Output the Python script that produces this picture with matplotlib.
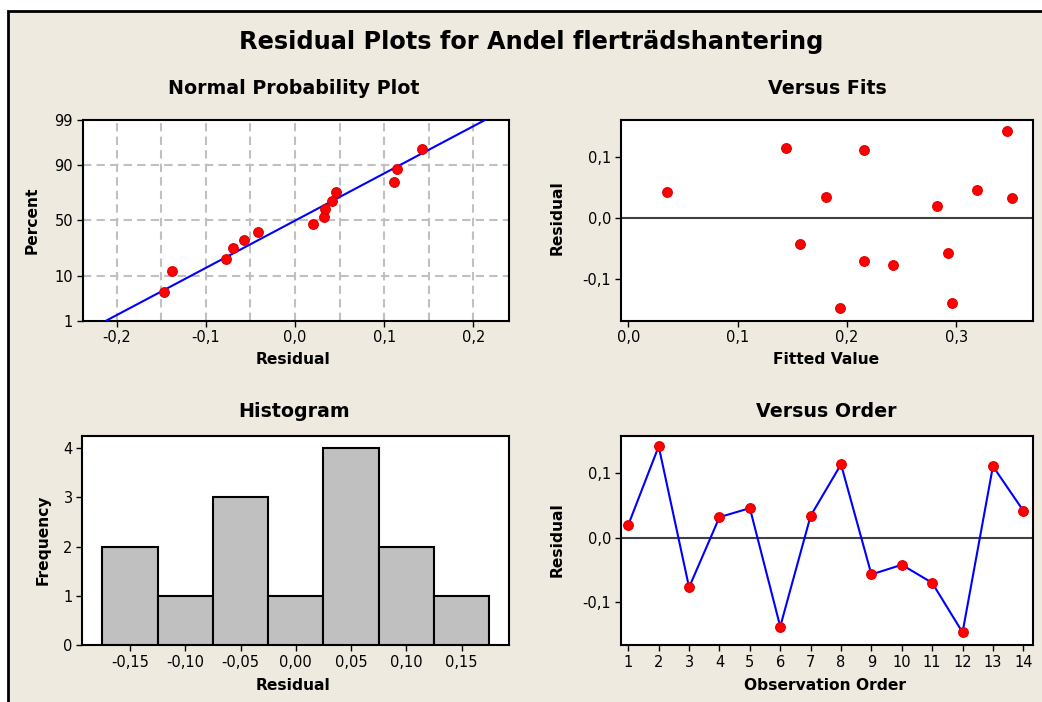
import numpy as np
import matplotlib.pyplot as plt
from matplotlib.patches import Rectangle
from statistics import NormalDist

order = np.arange(1, 15)
residuals = np.array([0.020, 0.142, -0.077, 0.032, 0.046, -0.138, 0.034,
                      0.114, -0.057, -0.042, -0.070, -0.147, 0.111, 0.042])
fitted = np.array([0.282, 0.346, 0.242, 0.351, 0.319, 0.296, 0.181,
                   0.144, 0.292, 0.157, 0.216, 0.194, 0.216, 0.035])

hist_edges = np.arange(-0.175, 0.2, 0.05)
pct_ticks = [1, 10, 50, 90, 99]

bg = '#EEEAE0'
red = '#FF0000'
blue = '#0000FF'
grid_kw = dict(color='#C0C0C0', lw=1.5, linestyle=(0, (4, 2.5)))
nd = NormalDist()


def comma(v, nd_=1):
    return f"{v:.{nd_}f}".replace('.', ',')


def style_axes(ax):
    ax.set_facecolor('white')
    for s in ax.spines.values():
        s.set_linewidth(1.5)
        s.set_color('black')
    ax.tick_params(which='major', direction='out', length=4, width=1,
                   labelsize=10.5, colors='black', pad=3)


fig = plt.figure(figsize=(10.42, 7.02), dpi=100)
fig.patch.set_facecolor('white')
# beige panel with black border on top and left (image is cropped)
fig.patches.append(Rectangle((7.5 / 1042, -0.05), 1.2, 1 - 10.5 / 702 + 0.05,
                             transform=fig.transFigure, facecolor=bg,
                             edgecolor='black', linewidth=2, zorder=-10))

fig.text(0.51, 1 - 42 / 702, 'Residual Plots for Andel flerträdshantering',
         ha='center', va='center', fontsize=17.3, fontweight='bold')

ax1 = fig.add_axes([0.0794, 0.5432, 0.4091, 0.2859])
ax2 = fig.add_axes([0.5957, 0.5432, 0.3960, 0.2859])
ax3 = fig.add_axes([0.0790, 0.0808, 0.4094, 0.2981])
ax4 = fig.add_axes([0.5957, 0.0808, 0.3960, 0.2981])
for ax in (ax1, ax2, ax3, ax4):
    style_axes(ax)

# --- Normal probability plot ---
n = len(residuals)
srt = np.sort(residuals)
probs = (np.arange(1, n + 1) - 0.3) / (n + 0.4)
zs = np.array([nd.inv_cdf(p) for p in probs])
mu, sd = residuals.mean(), residuals.std(ddof=1)
zlo, zhi = nd.inv_cdf(0.01), nd.inv_cdf(0.99)
zline = np.linspace(zlo, zhi, 50)
ax1.plot(mu + sd * zline, zline, color=blue, lw=1.5, zorder=3)
ax1.plot(srt, zs, 'o', color=red, ms=7, mec='#DD0000', mew=0.8, zorder=4)
ax1.set_xlim(-0.238, 0.240)
ax1.set_ylim(zlo, zhi)
ax1.set_xticks([-0.2, -0.1, 0.0, 0.1, 0.2])
ax1.set_xticklabels([comma(v) for v in [-0.2, -0.1, 0.0, 0.1, 0.2]])
ax1.set_yticks([nd.inv_cdf(p / 100) for p in pct_ticks])
ax1.set_yticklabels([str(p) for p in pct_ticks])
# dashed reference grid every 0.05 and at 10/50/90 percent
for gx in np.arange(-0.2, 0.21, 0.05):
    ax1.axvline(gx, zorder=1, **grid_kw)
for p in pct_ticks[1:-1]:
    ax1.axhline(nd.inv_cdf(p / 100), zorder=1, **grid_kw)

# --- Versus fits ---
ax2.axhline(0, color='#404040', lw=1.5, zorder=2)
ax2.plot(fitted, residuals, 'o', color=red, ms=7, mec='#DD0000', mew=0.8,
         zorder=4)
ax2.set_xlim(-0.007, 0.3705)
ax2.set_ylim(-0.167, 0.1595)
ax2.set_xticks([0.0, 0.1, 0.2, 0.3])
ax2.set_xticklabels([comma(v) for v in [0.0, 0.1, 0.2, 0.3]])
ax2.set_yticks([-0.1, 0.0, 0.1])
ax2.set_yticklabels([comma(v) for v in [-0.1, 0.0, 0.1]])

# --- Histogram ---
counts, edges = np.histogram(residuals, bins=hist_edges)
centers = (edges[:-1] + edges[1:]) / 2
ax3.bar(centers, counts, width=0.05, color='#C0C0C0', edgecolor='black',
        linewidth=1.5, zorder=3)
ax3.set_xlim(-0.1931, 0.1928)
ax3.set_ylim(0, 4.24)
ax3.set_xticks(centers)
ax3.set_xticklabels([comma(v, 2) for v in centers])
ax3.set_yticks([0, 1, 2, 3, 4])

# --- Versus order ---
ax4.axhline(0, color='#404040', lw=1.5, zorder=2)
ax4.plot(order, residuals, color=blue, lw=1.5, zorder=3)
ax4.plot(order, residuals, 'o', color=red, ms=7, mec='#DD0000', mew=0.8,
         zorder=4)
ax4.set_xlim(0.75, 14.33)
ax4.set_ylim(-0.167, 0.158)
ax4.set_xticks(order)
ax4.set_yticks([-0.1, 0.0, 0.1])
ax4.set_yticklabels([comma(v) for v in [-0.1, 0.0, 0.1]])

# titles and axis labels placed in pixel positions of the reference
def px_text(x, y, s, size, rot=0):
    fig.text(x / 1042, 1 - y / 702, s, ha='center', va='center',
             fontsize=size, fontweight='bold', rotation=rot)

px_text(294, 88, 'Normal Probability Plot', 13.7)
px_text(827, 88, 'Versus Fits', 13.7)
px_text(294, 412, 'Histogram', 13.7)
px_text(826, 412, 'Versus Order', 13.7)

px_text(293, 360, 'Residual', 11.2)
px_text(826, 360, 'Fitted Value', 11.2)
px_text(293, 685, 'Residual', 11.2)
px_text(825, 685, 'Observation Order', 11.2)
px_text(32, 220, 'Percent', 11.2, 90)
px_text(557, 218, 'Residual', 11.2, 90)
px_text(43, 540, 'Frequency', 11.2, 90)
px_text(557, 540, 'Residual', 11.2, 90)

fig.savefig('out.png', dpi=100, facecolor=fig.get_facecolor())
